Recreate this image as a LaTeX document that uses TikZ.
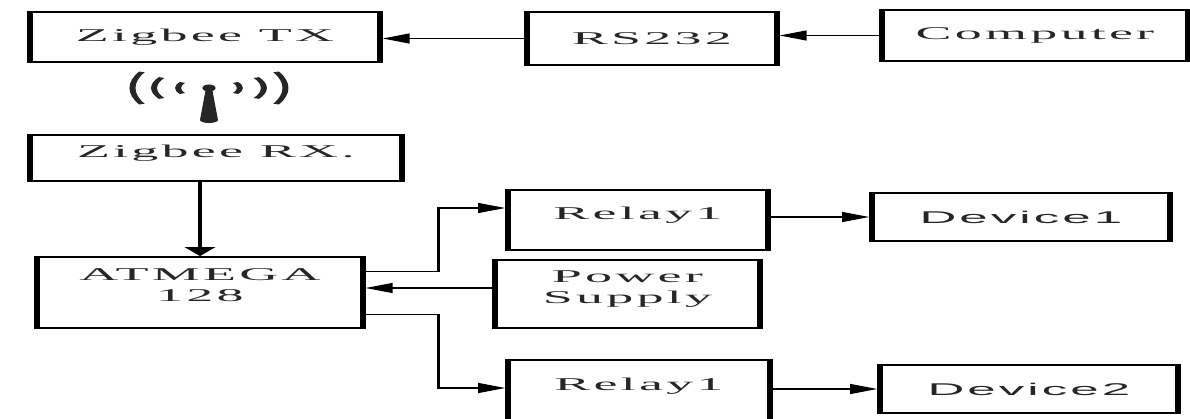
\documentclass[tikz,border=0pt]{standalone}
\usepackage{fontspec}
\usepackage{tikz}
\usetikzlibrary{arrows.meta,calc,positioning}
\newfontfamily\blockfont[LetterSpace=6]{Liberation Serif}
\newfontfamily\devfont[LetterSpace=6]{Liberation Sans}

\begin{document}
\begin{tikzpicture}[x=1pt,y=-1pt,>={Triangle[length=9pt,width=10pt]},
  every node/.append style={text=black!85}]
  \tikzstyle{block} = [draw,line width=1.8pt,inner sep=0pt,align=center,
    font=\blockfont\fontsize{18}{21}\selectfont]
  \tikzstyle{dev} = [block,font=\devfont\fontsize{17}{20}\selectfont]
  \tikzstyle{liftone} = [text height=10pt,text depth=10pt]
  \tikzstyle{lifttwo} = [text depth=14pt]
  \tikzstyle{wire} = [->,line width=1.2pt]
  \tikzstyle{wave} = [line width=2pt,black!85]
  \useasboundingbox (0,0) rectangle (1190,419);

  % the whole drawing is stretched sideways
  \begin{scope}[x=0.3333pt,transform canvas={xscale=3}]
  % top row
  \node (tx) [block,minimum width=350pt/3,minimum height=50pt] at (205,37) {Zigbee TX};
  \node (rs) [block,minimum width=250pt/3,minimum height=53pt] at (652,38.5) {RS232};
  \node (pc) [block,minimum width=306pt/3,minimum height=51pt] at (1035,35.5) {Computer};

  % receiver side
  \node (rx) [block,liftone,minimum width=372pt/3,minimum height=46pt] at (216,158) {Zigbee RX.};
  \node (mcu) [block,lifttwo,minimum width=326pt/3,minimum height=71pt] at (200,292.5) {ATMEGA\\128};
  \node (r1) [block,liftone,minimum width=260pt/3,minimum height=60pt] at (638,220) {Relay1};
  \node (ps) [block,lifttwo,minimum width=265pt/3,minimum height=68pt] at (627.5,294) {Power\\Supply};
  \node (r2) [block,liftone,minimum width=262pt/3,minimum height=60pt] at (639,390) {Relay1};
  \node (d1) [dev,minimum width=298pt/3,minimum height=48pt] at (1021,217) {Device1};
  \node (d2) [dev,minimum width=298pt/3,minimum height=48pt] at (1029,389) {Device2};

  % antenna
  \coordinate (ant) at (209,88);
  \fill[black!85] (ant) ellipse[x radius=2.2pt,y radius=3.5pt];
  \fill[black!85] ([xshift=-1pt]ant) -- ([xshift=1pt]ant)
    -- ([xshift=3pt,yshift=-32pt]ant) arc[start angle=0,end angle=-180,radius=3pt] -- cycle;
  \foreach \r/\d/\a in {11/10.3/30,23/18.3/27,43/25.5/22} {
    \draw[wave] ([xshift={(\r-\d)*1pt}]ant) ++(180-\a:\r pt) arc[start angle=180-\a,end angle=180+\a,radius=\r pt];
    \draw[wave] ([xshift={(\d-\r)*1pt}]ant) ++(\a:\r pt) arc[start angle=\a,end angle=-\a,radius=\r pt];
  }

  % connectors
  \draw[wire] (rs.west) -- (rs.west -| tx.east);
  \draw[wire] (pc.west) -- (pc.west -| rs.east);
  \draw[wire] (mcu.north |- rx.south) -- (mcu.north);
  \draw[wire] ([yshift=21pt]mcu.east) -- ++(73,0) |- ([yshift=12pt]r1.west);
  \draw[wire] ([yshift=6pt]ps.west) -- ([yshift=6pt]ps.west -| mcu.east);
  \draw[wire] ([yshift=-22pt]mcu.east) -- ++(73,0) |- ([yshift=2pt]r2.west);
  \draw[wire] (r1.east |- d1.west) -- (d1.west);
  \draw[wire] (r2.east |- d2.west) -- (d2.west);
  \end{scope}
\end{tikzpicture}
\end{document}
